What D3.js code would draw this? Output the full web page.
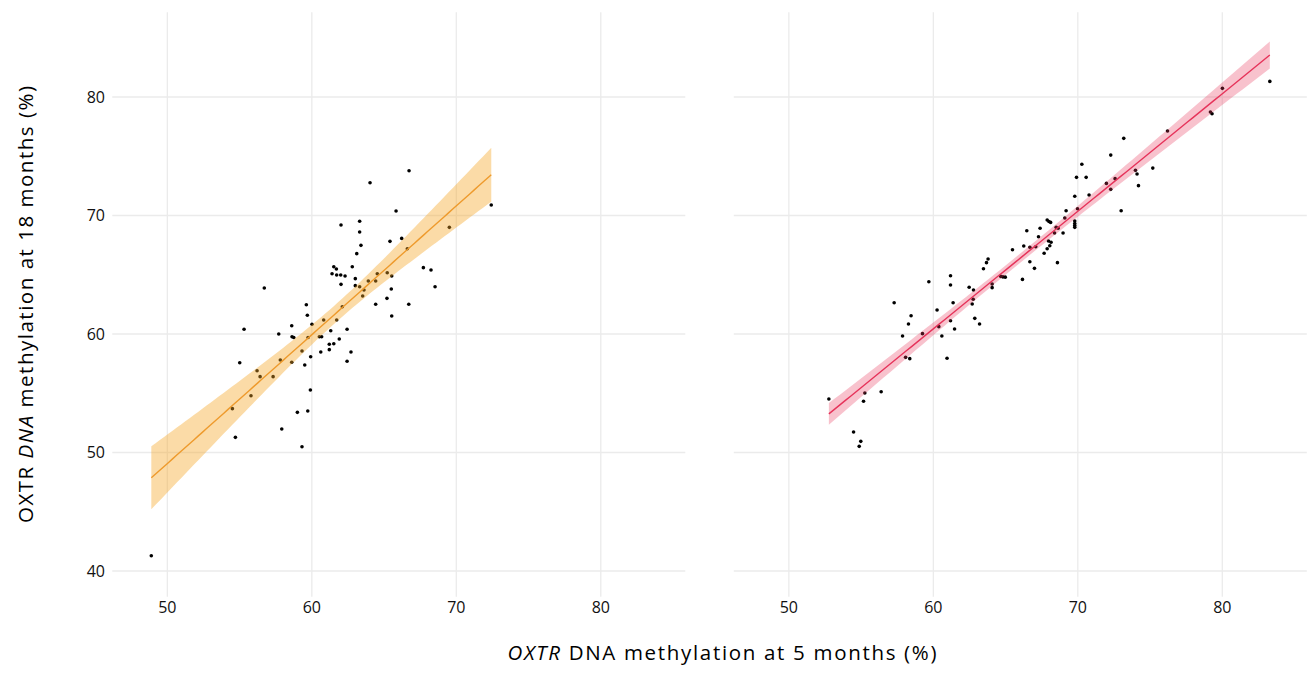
<!DOCTYPE html>
<html lang="en">
<head>
    <meta charset="UTF-8">
    <title>OXTR methylation</title>
    <style>
        body { margin: 0; background: #fff; }
        svg { display: block; font-family: 'Open Sans', sans-serif; }
    </style>
</head>
<body>
    <div id="chart"></div>
    <script src="https://cdnjs.cloudflare.com/ajax/libs/d3/7.8.5/d3.min.js"></script>
    <script>
        // left panel (orange)
        const leftX = [56.71, 59.62, 59.69, 58.61, 55.31, 57.71, 58.63, 58.75, 66.73, 64.03,
            72.42, 65.83, 69.52, 62.02, 63.31, 63.31, 63.40, 65.41, 66.22, 66.61,
            63.11, 61.52, 61.70, 62.80, 61.40, 61.72, 62.00, 62.30, 63.01, 63.91,
            64.53, 65.22, 65.53, 64.42, 67.72, 68.25, 68.53, 62.02, 63.01, 63.31,
            63.61, 63.52, 65.50, 65.20, 64.42, 66.71, 65.53, 62.11, 60.01, 60.82,
            61.72, 59.74, 60.52, 60.68, 61.31, 62.44, 61.90, 61.52, 61.21, 61.21,
            60.62, 59.92, 59.32, 62.71, 62.44, 59.51, 58.61, 57.82, 55.01, 56.21,
            56.42, 57.32, 55.79, 54.50, 59.90, 59.00, 59.72, 57.92, 54.71, 59.32, 48.89]
        const leftY = [63.88, 62.47, 61.58, 60.70, 60.40, 60.00, 59.77, 59.70, 73.78, 72.77,
            70.89, 70.38, 69.00, 69.20, 69.51, 68.61, 67.48, 67.82, 68.07, 67.20,
            66.78, 65.68, 65.49, 65.68, 65.09, 64.98, 64.98, 64.89, 64.67, 64.47,
            65.09, 65.17, 64.89, 64.47, 65.60, 65.40, 63.99, 64.19, 64.08, 63.99,
            63.71, 63.21, 63.80, 63.01, 62.51, 62.51, 61.52, 62.30, 60.82, 61.18,
            61.18, 59.70, 59.77, 59.77, 60.28, 60.40, 59.58, 59.18, 59.13, 58.68,
            58.48, 58.08, 58.56, 58.48, 57.70, 57.38, 57.61, 57.81, 57.58, 56.90,
            56.40, 56.40, 54.79, 53.70, 55.27, 53.39, 53.50, 51.98, 51.28, 50.49, 41.29]

        // right panel (pink)
        const rightX = [63.79, 63.68, 63.47, 64.67, 64.82, 64.98, 64.07, 64.07, 61.19, 61.19,
            59.69, 62.48, 62.78, 62.76, 62.69, 61.37, 60.26, 57.29, 58.46, 58.28,
            61.19, 62.87, 63.20, 61.47, 60.38, 59.25, 57.87, 60.59, 58.08, 58.37,
            60.95, 56.39, 55.26, 55.17, 52.77, 54.48, 54.98, 54.87, 72.28, 70.28,
            75.19, 73.99, 74.10, 74.20, 69.91, 70.58, 71.98, 72.58, 72.28, 69.79,
            70.78, 73.00, 69.19, 69.98, 69.10, 69.79, 69.79, 69.79, 69.79, 67.88,
            68.00, 68.12, 68.50, 68.64, 68.39, 68.98, 67.39, 66.47, 67.28, 67.97,
            68.15, 68.06, 67.88, 67.09, 66.68, 66.26, 65.48, 67.67, 66.68, 67.00,
            68.59, 66.17, 80.01, 83.29, 79.18, 79.29, 76.21, 73.18]
        const rightY = [66.33, 66.02, 65.51, 64.86, 64.82, 64.80, 64.22, 63.91, 64.92, 64.14,
            64.41, 63.94, 63.71, 62.93, 62.53, 62.64, 62.03, 62.64, 61.54, 60.84,
            61.12, 61.32, 60.84, 60.42, 60.62, 60.03, 59.83, 59.83, 58.03, 57.92,
            57.95, 55.13, 55.02, 54.32, 54.51, 51.73, 50.94, 50.52, 75.10, 74.32,
            74.00, 73.81, 73.50, 72.52, 73.22, 73.22, 72.71, 73.11, 72.21, 71.62,
            71.73, 70.40, 70.40, 70.57, 69.79, 69.53, 69.33, 69.16, 69.00, 69.62,
            69.50, 69.42, 69.00, 68.92, 68.52, 68.52, 68.92, 68.72, 68.21, 67.85,
            67.74, 67.45, 67.20, 67.37, 67.32, 67.43, 67.11, 66.81, 66.10, 65.54,
            66.02, 64.61, 80.73, 81.32, 78.73, 78.59, 77.13, 76.51]

        const xTicks = [50, 60, 70, 80]
        const yTicks = [40, 50, 60, 70, 80]

        const width = 1307
        const height = 685
        const panelW = 573
        const panelTop = 12.3
        const panelBottom = 596.7
        const panelLefts = [112.3, 733.8]

        const svg = d3.select('#chart')
            .append('svg')
            .attr('width', width)
            .attr('height', height)

        const y = d3.scaleLinear()
            .domain([37.83, 87.15])
            .range([panelBottom, panelTop])

        // least squares fit with 95% band, like geom_smooth(method = 'lm')
        function fit(xs, ys) {
            const n = xs.length
            const mx = d3.mean(xs)
            const my = d3.mean(ys)
            const sxx = d3.sum(xs, v => (v - mx) ** 2)
            const sxy = d3.sum(xs, (v, i) => (v - mx) * (ys[i] - my))
            const b = sxy / sxx
            const a = my - b * mx
            const s = Math.sqrt(d3.sum(xs, (v, i) => (ys[i] - a - b * v) ** 2) / (n - 2))
            const t = 1.99
            const [lo, hi] = d3.extent(xs)
            return d3.range(81).map(k => {
                const xv = lo + (hi - lo) * k / 80
                const se = s * Math.sqrt(1 / n + (xv - mx) ** 2 / sxx)
                const yv = a + b * xv
                return { x: xv, y: yv, lo: yv - t * se, hi: yv + t * se }
            })
        }

        const panels = [
            { xs: leftX, ys: leftY, line: '#EE9A2C', fill: '#F5A623', alpha: 0.4 },
            { xs: rightX, ys: rightY, line: '#E6335A', fill: '#E8365A', alpha: 0.3 }
        ]

        panels.forEach((p, i) => {
            const x = d3.scaleLinear()
                .domain([46.19, 85.85])
                .range([panelLefts[i], panelLefts[i] + panelW])

            const g = svg.append('g')

            // grid
            g.selectAll('.hg')
                .data(yTicks)
                .enter()
                .append('line')
                .attr('x1', panelLefts[i])
                .attr('x2', panelLefts[i] + panelW)
                .attr('y1', d => y(d))
                .attr('y2', d => y(d))
                .attr('stroke', '#EBEBEB')
                .attr('stroke-width', 1.3)

            g.selectAll('.vg')
                .data(xTicks)
                .enter()
                .append('line')
                .attr('x1', d => x(d))
                .attr('x2', d => x(d))
                .attr('y1', panelTop)
                .attr('y2', panelBottom)
                .attr('stroke', '#EBEBEB')
                .attr('stroke-width', 1.3)

            // x tick labels
            g.selectAll('.xt')
                .data(xTicks)
                .enter()
                .append('text')
                .attr('x', d => x(d))
                .attr('y', 613)
                .attr('text-anchor', 'middle')
                .attr('font-size', 16)
                .attr('fill', '#111')
                .text(d => d)

            if (i === 0) {
                g.selectAll('.yt')
                    .data(yTicks)
                    .enter()
                    .append('text')
                    .attr('x', 105)
                    .attr('y', d => y(d))
                    .attr('dy', '0.36em')
                    .attr('text-anchor', 'end')
                    .attr('font-size', 16)
                    .attr('fill', '#111')
                    .text(d => d)
            }

            // points
            g.selectAll('circle')
                .data(p.xs.map((v, k) => [v, p.ys[k]]))
                .enter()
                .append('circle')
                .attr('cx', d => x(d[0]))
                .attr('cy', d => y(d[1]))
                .attr('r', 1.8)
                .attr('fill', '#000')

            const band = fit(p.xs, p.ys)

            g.append('path')
                .datum(band)
                .attr('d', d3.area().x(d => x(d.x)).y0(d => y(d.lo)).y1(d => y(d.hi)))
                .attr('fill', p.fill)
                .attr('fill-opacity', p.alpha)

            g.append('path')
                .datum(band)
                .attr('d', d3.line().x(d => x(d.x)).y(d => y(d.y)))
                .attr('fill', 'none')
                .attr('stroke', p.line)
                .attr('stroke-width', 1.4)
        })

        // axis titles
        const xt = svg.append('text')
            .attr('x', 722)
            .attr('y', 660)
            .attr('text-anchor', 'middle')
            .attr('font-size', 20.5)
            .attr('fill', '#000')
            .attr('textLength', 429)
            .attr('lengthAdjust', 'spacing')
        xt.append('tspan').attr('font-style', 'italic').text('OXTR')
        xt.append('tspan').text(' DNA methylation at 5 months (%)')

        const yt = svg.append('text')
            .attr('transform', `translate(32.5, ${ (panelTop + panelBottom) / 2 }) rotate(-90)`)
            .attr('text-anchor', 'middle')
            .attr('font-size', 20.5)
            .attr('fill', '#000')
            .attr('textLength', 437)
            .attr('lengthAdjust', 'spacing')
        yt.append('tspan').text('OXTR ')
        yt.append('tspan').attr('font-style', 'italic').text('DNA')
        yt.append('tspan').text(' methylation at 18 months (%)')
    </script>
</body>
</html>
